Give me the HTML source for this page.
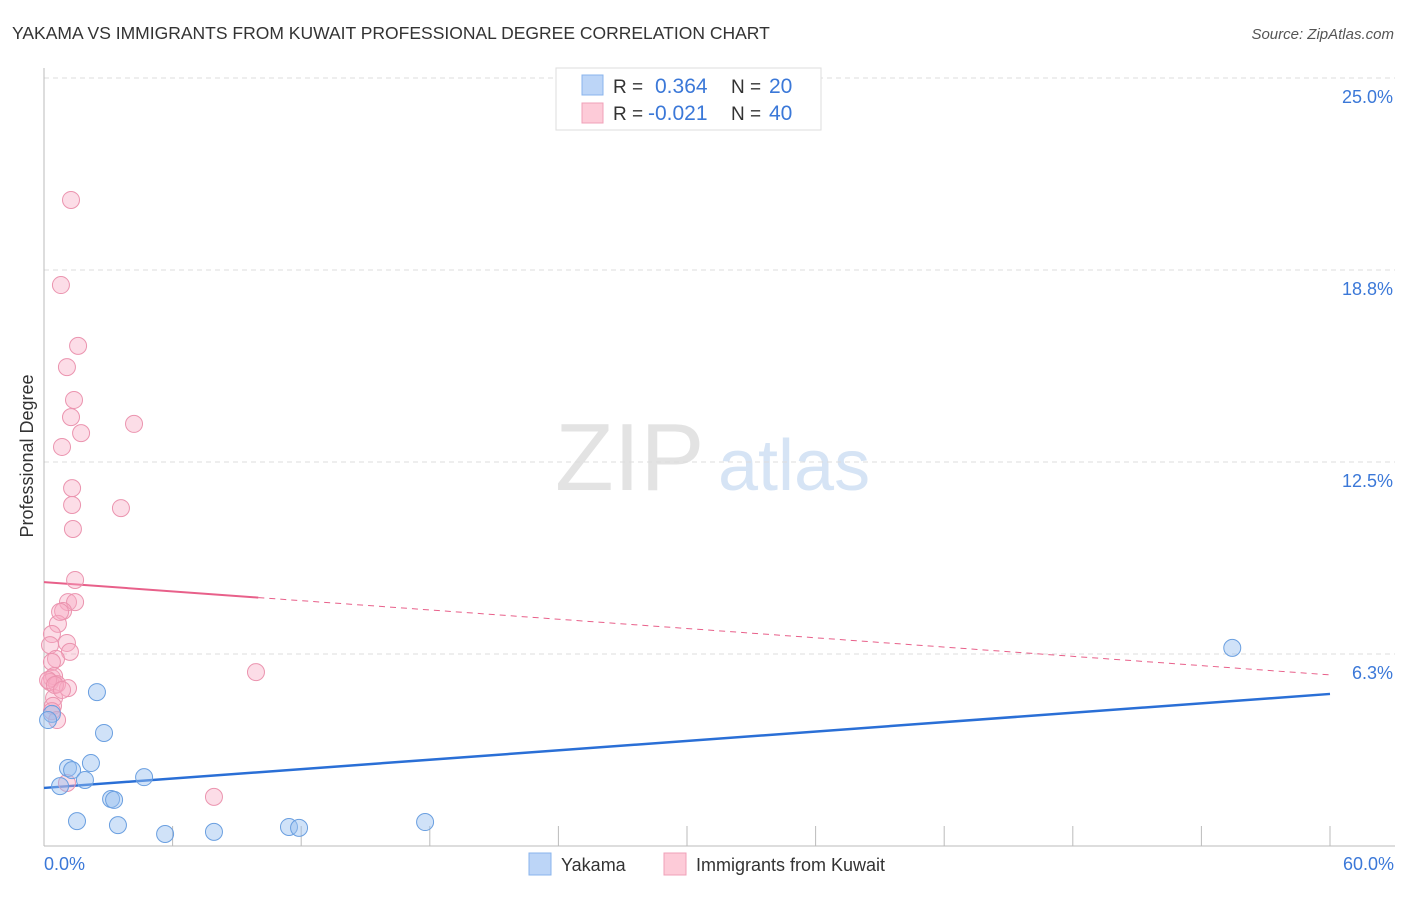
<!DOCTYPE html>
<html><head><meta charset="utf-8"><style>
body{margin:0;background:#fff;font-family:"Liberation Sans",sans-serif;}
svg text{font-family:"Liberation Sans",sans-serif;}
</style></head><body>
<svg id="chart" width="1406" height="892" viewBox="0 0 1406 892">
<text x="12" y="39" font-size="17.5" fill="#333">YAKAMA VS IMMIGRANTS FROM KUWAIT PROFESSIONAL DEGREE CORRELATION CHART</text>
<text x="1394" y="39" font-size="15" fill="#555" text-anchor="end" font-style="italic">Source: ZipAtlas.com</text>
<text x="555" y="490" font-size="96" fill="#e3e3e3" font-family="Liberation Serif">ZIP</text>
<text x="718" y="490" font-size="72" fill="#d6e4f5">atlas</text>
<text transform="translate(33,456) rotate(-90)" font-size="18" fill="#333" text-anchor="middle">Professional Degree</text>
<g id="grid"></g>
<g id="axes"></g>
<g id="trends"></g>
<g id="points"></g>
<g>
<rect x="556" y="68" width="265" height="62" fill="#fff" stroke="#ddd"/>
<rect x="582" y="75" width="21" height="20" fill="#bcd5f7" stroke="#8ab4ec"/>
<rect x="582" y="103" width="21" height="20" fill="#fdcbd8" stroke="#f0a0b8"/>
<text x="613" y="93" font-size="19" fill="#333">R = </text><text x="655" y="93" font-size="21" fill="#3b78d8">0.364</text>
<text x="731" y="93" font-size="19" fill="#333">N = </text><text x="769" y="93" font-size="21" fill="#3b78d8">20</text>
<text x="613" y="120" font-size="19" fill="#333">R = </text><text x="648" y="120" font-size="21" fill="#3b78d8">-0.021</text>
<text x="731" y="120" font-size="19" fill="#333">N = </text><text x="769" y="120" font-size="21" fill="#3b78d8">40</text>
</g>
<g>
<rect x="529" y="853" width="22" height="22" fill="#bcd5f7" stroke="#8ab4ec"/>
<text x="561" y="871" font-size="18" fill="#333">Yakama</text>
<rect x="664" y="853" width="22" height="22" fill="#fdcbd8" stroke="#f0a0b8"/>
<text x="696" y="871" font-size="18" fill="#333">Immigrants from Kuwait</text>
</g>
</svg>
<script>
const yTicks=[6.3,12.5,18.8,25.0];
const yTickLabels=["6.3%","12.5%","18.8%","25.0%"];
const xTickLabels=["0.0%","60.0%"];
const yakamaX=[55.44,2.47,2.80,0.37,0.19,1.12,1.31,2.19,1.91,0.75,4.67,3.13,3.27,1.54,3.45,5.65,7.93,11.43,11.90,17.78];
const yakamaY=[6.45,5.01,3.68,4.30,4.10,2.54,2.47,2.70,2.15,1.95,2.24,1.53,1.50,0.81,0.68,0.39,0.46,0.62,0.59,0.78];
const kuwaitX=[1.26,0.79,1.59,1.07,1.40,1.26,1.73,0.84,4.20,1.31,1.31,1.35,3.59,1.45,1.12,1.45,0.89,0.65,0.37,0.28,1.07,1.21,0.56,0.37,9.89,0.37,0.47,0.28,0.61,1.12,0.47,0.42,0.37,0.61,1.07,7.93,0.75,0.19,0.51,0.84];
const kuwaitY=[21.03,18.26,16.28,15.59,14.52,13.96,13.44,12.99,13.74,11.65,11.10,10.32,11.00,8.66,7.94,7.94,7.65,7.23,6.90,6.54,6.61,6.32,6.09,5.99,5.66,5.47,5.53,5.34,5.27,5.14,4.82,4.56,4.39,4.10,2.05,1.60,7.62,5.40,5.24,5.08];
const yakamaTrend=[1.89,4.95];
const kuwaitTrend=[8.59,5.57];
const NS="http://www.w3.org/2000/svg";
function sx(v){return 44+v*(1286/60);}
function sy(v){return 846-v*(192/6.25);}
function mk(t,a,p){const e=document.createElementNS(NS,t);for(const k in a)e.setAttribute(k,a[k]);p.appendChild(e);return e;}
const grid=document.getElementById('grid');
yTicks.forEach((t,i)=>{
 const l=mk('line',{x1:44,x2:1395,y1:sy(t===6.3?6.25:t===18.8?18.75:t),y2:sy(t===6.3?6.25:t===18.8?18.75:t),stroke:'#ddd','stroke-dasharray':'5,4'},grid);
 
 
 const tx=mk('text',{x:1393,y:sy(t===6.3?6.25:t===18.8?18.75:t)+25,'font-size':18,fill:'#3b78d8','text-anchor':'end'},grid);
 tx.textContent=yTickLabels[i];
 
 
});
const axes=document.getElementById('axes');
const ya=mk('line',{x1:44,x2:44,y1:68,y2:846,stroke:'#bbb'},axes);


const xa=mk('line',{x1:44,x2:1395,y1:846,y2:846,stroke:'#bbb'},axes);


for(let v=6;v<=60;v+=6){
 const t=mk('line',{x1:sx(v),x2:sx(v),y1:826,y2:846,stroke:'#bbb'},axes);
 
 
}
[[0,'start',44],[60,'end',1394]].forEach((d,i)=>{
 const tx=mk('text',{x:d[2],y:870,'font-size':18,fill:'#3b78d8','text-anchor':d[1]},axes);
 tx.textContent=xTickLabels[i];
 
 
});
const tr=document.getElementById('trends');
const ky=v=>kuwaitTrend[0]+(kuwaitTrend[1]-kuwaitTrend[0])*v/60;
const k1=mk('line',{x1:sx(0),y1:sy(ky(0)),x2:sx(10),y2:sy(ky(10)),stroke:'#e8608a','stroke-width':2},tr);


const k2=mk('line',{x1:sx(10),y1:sy(ky(10)),x2:sx(60),y2:sy(ky(60)),stroke:'#e8608a','stroke-width':1,'stroke-dasharray':'6,5'},tr);


const pts=document.getElementById('points');
kuwaitX.forEach((x,i)=>{
 const c=mk('circle',{cx:sx(x),cy:sy(kuwaitY[i]),r:8.5,fill:'rgba(248,170,195,0.4)',stroke:'#eb94af','stroke-width':1},pts);
 
 
});
const b=mk('line',{x1:sx(0),y1:sy(yakamaTrend[0]),x2:sx(60),y2:sy(yakamaTrend[1]),stroke:'#2a6fd6','stroke-width':2.5},tr);


yakamaX.forEach((x,i)=>{
 const c=mk('circle',{cx:sx(x),cy:sy(yakamaY[i]),r:8.5,fill:'rgba(150,190,240,0.45)',stroke:'#6a9fe0','stroke-width':1},pts);
 
 
});
</script>
</body></html>
